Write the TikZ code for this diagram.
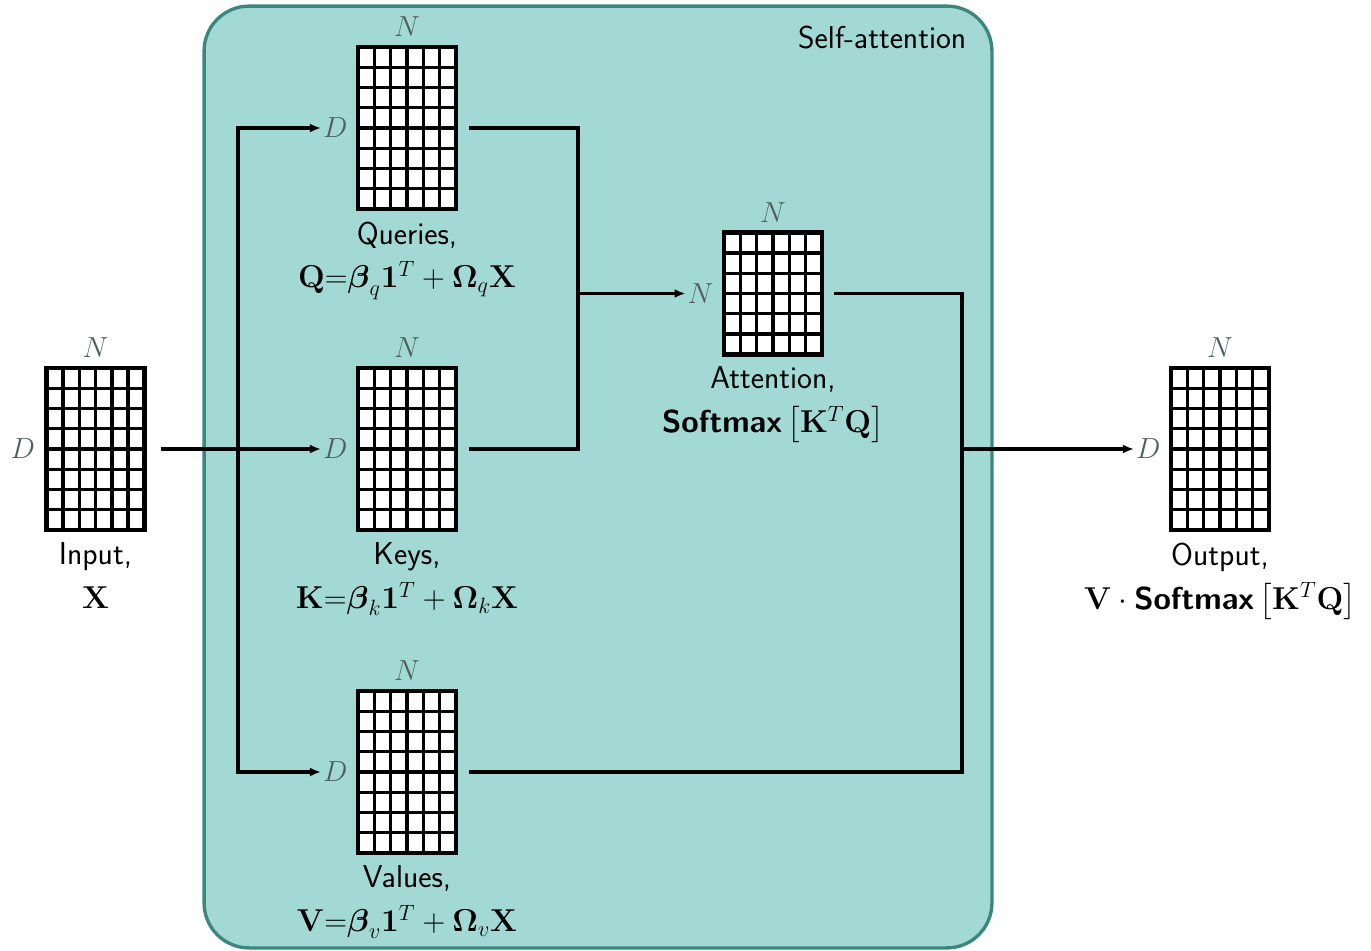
\RequirePackage{fix-cm}
\documentclass[tikz,border=0pt]{standalone}
\usepackage{amsmath}
\usepackage{tikz}
\usetikzlibrary{positioning,arrows.meta,calc,backgrounds}
\definecolor{satfill}{RGB}{162,217,212}
\definecolor{satedge}{RGB}{60,135,125}
\definecolor{dimgray}{RGB}{78,94,94}

\begin{document}
\begin{tikzpicture}[
  x=0.02cm, y=0.02cm,
  font=\sffamily\fontsize{18}{25}\selectfont,
  >={Latex[length=2.2mm,width=1.8mm]},
  wire/.style={line width=2.1pt},
  dim/.style={text=dimgray, inner sep=0pt, font=\fontsize{16.5}{18}\selectfont},
  mat/.style={draw, line width=2.6pt, fill=white, inner sep=0pt,
              minimum width=1.96cm, minimum height=#1*0.405cm,
              path picture={
                \pgfmathtruncatemacro\lastrow{#1-1}
                \foreach \c in {1,...,5}
                  \draw[line width=1.9pt]
                    ($(path picture bounding box.south west)!\c/6!(path picture bounding box.south east)$) --
                    ($(path picture bounding box.north west)!\c/6!(path picture bounding box.north east)$);
                \foreach \r in {1,...,\lastrow}
                  \draw[line width=1.9pt]
                    ($(path picture bounding box.south west)!\r/#1!(path picture bounding box.north west)$) --
                    ($(path picture bounding box.south east)!\r/#1!(path picture bounding box.north east)$);
              },
              label={[dim, label distance=0.15cm]above:$N$}},
  cap/.style={align=center, inner sep=0pt, below=0.2cm of #1},
]
\useasboundingbox (0,0) rectangle (1371,-950);

% matrices
\node[mat=8] (in)  at (95.5,-449) {};
\node[mat=8] (q)   at (407,-128)  {};
\node[mat=8] (k)   at (407,-449)  {};
\node[mat=8] (v)   at (407,-772)  {};
\node[mat=6] (att) at (773,-293.5) {};
\node[mat=8] (out) at (1220,-449) {};

% row sizes
\node[dim, left=0.18cm of in]  (ind)  {$D$};
\node[dim, left=0.16cm of q]   (qd)   {$D$};
\node[dim, left=0.16cm of k]   (kd)   {$D$};
\node[dim, left=0.16cm of v]   (vd)   {$D$};
\node[dim, left=0.16cm of att] (attn) {$N$};
\node[dim, left=0.16cm of out] (outd) {$D$};

% captions
\node[cap=in]  (inlab)  {Input,\\$\mathbf{X}$};
\node[cap=q]   (qlab)   {Queries,\\$\mathbf{Q}{=}\boldsymbol{\beta}_q\mathbf{1}^T+\boldsymbol{\Omega}_q\mathbf{X}$};
\node[cap=k]   (klab)   {Keys,\\$\mathbf{K}{=}\boldsymbol{\beta}_k\mathbf{1}^T+\boldsymbol{\Omega}_k\mathbf{X}$};
\node[cap=v]   (vlab)   {Values,\\$\mathbf{V}{=}\boldsymbol{\beta}_v\mathbf{1}^T+\boldsymbol{\Omega}_v\mathbf{X}$};
\node[cap=att] (attlab) {Attention,\\\textbf{Softmax}$\,\big[\mathbf{K}^T\mathbf{Q}\big]$};
\node[cap=out] (outlab) {Output,\\$\mathbf{V}\cdot{}$\textbf{Softmax}$\,\big[\mathbf{K}^T\mathbf{Q}\big]$};

\begin{scope}[on background layer]
  \node[draw=satedge, fill=satfill, line width=1.9pt, rounded corners=0.9cm,
        minimum width=15.76cm, minimum height=18.84cm] (sa) at (598,-477) {};
\end{scope}
\node[anchor=north east, inner sep=0pt] (satitle)
     at ([xshift=-0.54cm, yshift=-0.42cm]sa.north east) {Self-attention};

% wires
\coordinate (split)  at (238,-449);
\coordinate (qkjoin) at (578,-293.5);
\coordinate (avjoin) at (962,-449);
\draw[wire, ->, shorten <=0.28cm, shorten >=1pt] (in) -- (kd);
\draw[wire, ->, shorten >=1pt] (split) |- (qd);
\draw[wire, ->, shorten >=1pt] (split) |- (vd);
\draw[wire, shorten <=0.22cm] (q) -| (qkjoin);
\draw[wire, shorten <=0.22cm] (k) -| (qkjoin);
\draw[wire, ->, shorten >=1pt] (qkjoin) -- (attn);
\draw[wire, shorten <=0.2cm] (att) -| (avjoin);
\draw[wire, shorten <=0.22cm] (v) -| (avjoin);
\draw[wire, ->, shorten >=1pt] (avjoin) -- (outd);
\end{tikzpicture}
\end{document}
